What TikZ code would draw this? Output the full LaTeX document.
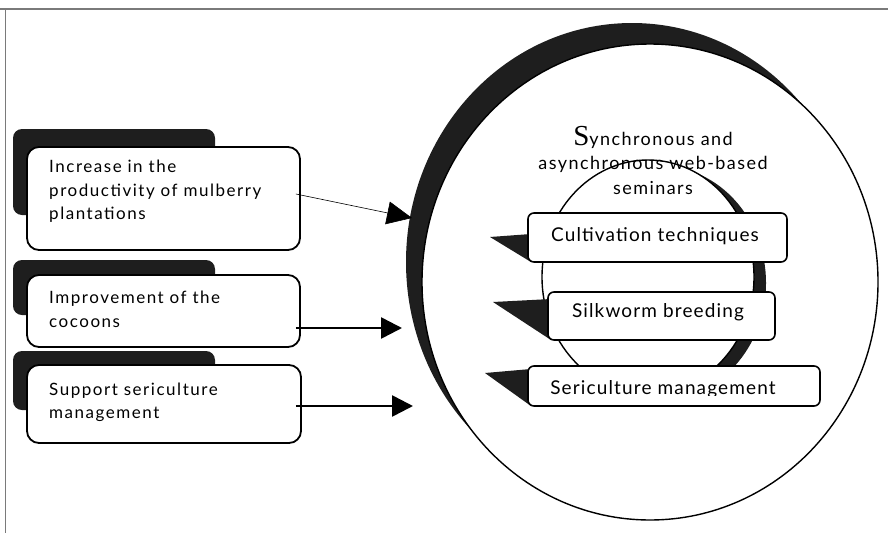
\documentclass[tikz,border=0pt]{standalone}
\usepackage{fontspec}
\setmainfont{Lato}
\newfontfamily\leftfont[LetterSpace=9]{Lato}
\newfontfamily\rightfont[LetterSpace=6]{Lato}
\newfontfamily\titlefont[LetterSpace=8]{Lato}
\newfontfamily\bigSfont{Liberation Serif}
\usetikzlibrary{arrows.meta,calc}
\definecolor{darkfill}{HTML}{1E1E1E}
\definecolor{framegray}{HTML}{7A7A7A}
\begin{document}
\begin{tikzpicture}[x=1pt,y=-1pt,
  leftbox/.style={draw=black,line width=1.8pt,rounded corners=12pt,fill=white,inner sep=0pt},
  rightbox/.style={draw=black,line width=1.6pt,rounded corners=6pt,fill=white,inner sep=0pt},
  shadowfill/.style={fill=darkfill,draw=none},
  boxtext/.style={align=left,anchor=west,inner sep=0pt,font=\leftfont\fontsize{17}{23.5}\selectfont},
  rtext/.style={inner sep=0pt,font=\rightfont\fontsize{19}{22}\selectfont},
  thinarrow/.style={line width=0.6pt,-{Triangle[length=25pt,width=23pt]}},
  thickarrow/.style={line width=2.6pt,-{Triangle[length=21pt,width=21pt]}}
]
\useasboundingbox (0,0) rectangle (888,533);
% frame
\draw[framegray,line width=1.2pt] (0,9) -- (888,9);
\draw[framegray,line width=1.2pt] (5.5,9) -- (5.5,533);

% big circle with crescent
\fill[darkfill] (632,262) ellipse [x radius=226,y radius=239];
\filldraw[fill=white,draw=black,line width=1.4pt] (650,282) ellipse [x radius=228,y radius=238];

% inner circle with crescent
\fill[darkfill] (660,283) ellipse [x radius=106,y radius=117];
\filldraw[fill=white,draw=black,line width=1.4pt] (648,277) ellipse [x radius=106,y radius=117];

% title
\node[align=center,inner sep=0pt,font=\titlefont\fontsize{18}{24.5}\selectfont] (title) at (653,160)
  {{\bigSfont\fontsize{29}{24.5}\selectfont S}ynchronous and\\asynchronous web-based\\seminars};

% left boxes
\fill[shadowfill,rounded corners=9pt] (13,129) rectangle (215,215);
\node[leftbox,minimum width=273pt,minimum height=103pt] (b1) at (163.5,198.5) {};
\node[boxtext] (t1) at (49,191.5) {Increase in the\\productivity of mulberry\\plantations};

\fill[shadowfill,rounded corners=9pt] (13,260) rectangle (215,315);
\node[leftbox,minimum width=273pt,minimum height=72pt] (b2) at (163.5,311) {};
\node[boxtext] (t2) at (49,309.5) {Improvement of the\\cocoons};

\fill[shadowfill,rounded corners=9pt] (13,351) rectangle (215,410);
\node[leftbox,minimum width=274pt,minimum height=78pt] (b3) at (164,404) {};
\node[boxtext] (t3) at (49,402.5) {Support sericulture\\management};

% arrows
\coordinate (a1) at (412,218);
\coordinate (a2) at (402,328);
\coordinate (a3) at (413,406);
\draw[thinarrow] ([xshift=-5pt,yshift=4.5pt]b1.east) -- (a1);
\draw[thickarrow] ([xshift=-5pt,yshift=-17pt]b2.east) -- (a2);
\draw[thickarrow] ([xshift=-6pt,yshift=-2pt]b3.east) -- (a3);

% right boxes
\fill[shadowfill] (490,237) -- (531,234) -- (531,262) -- cycle;
\node[rightbox,minimum width=259pt,minimum height=49pt] (c1) at (657.5,237.5) {};
\node[rtext] (ct) at (655,236) {Cultivation techniques};

\fill[shadowfill] (493,302) -- (551,299) -- (551,340) -- cycle;
\node[rightbox,minimum width=227pt,minimum height=48pt] (c2) at (661.5,316) {};
\node[rtext] (st) at (658,312) {Silkworm breeding};

\fill[shadowfill] (485,373) -- (531,369) -- (531,406) -- cycle;
\node[rightbox,minimum width=292pt,minimum height=40pt] (c3) at (674,386) {};
\begin{scope}
\clip (528,366) rectangle (820,395);
\node[rtext,anchor=base] (mt) at (663,394) {Sericulture management};
\end{scope}
\end{tikzpicture}
\end{document}
